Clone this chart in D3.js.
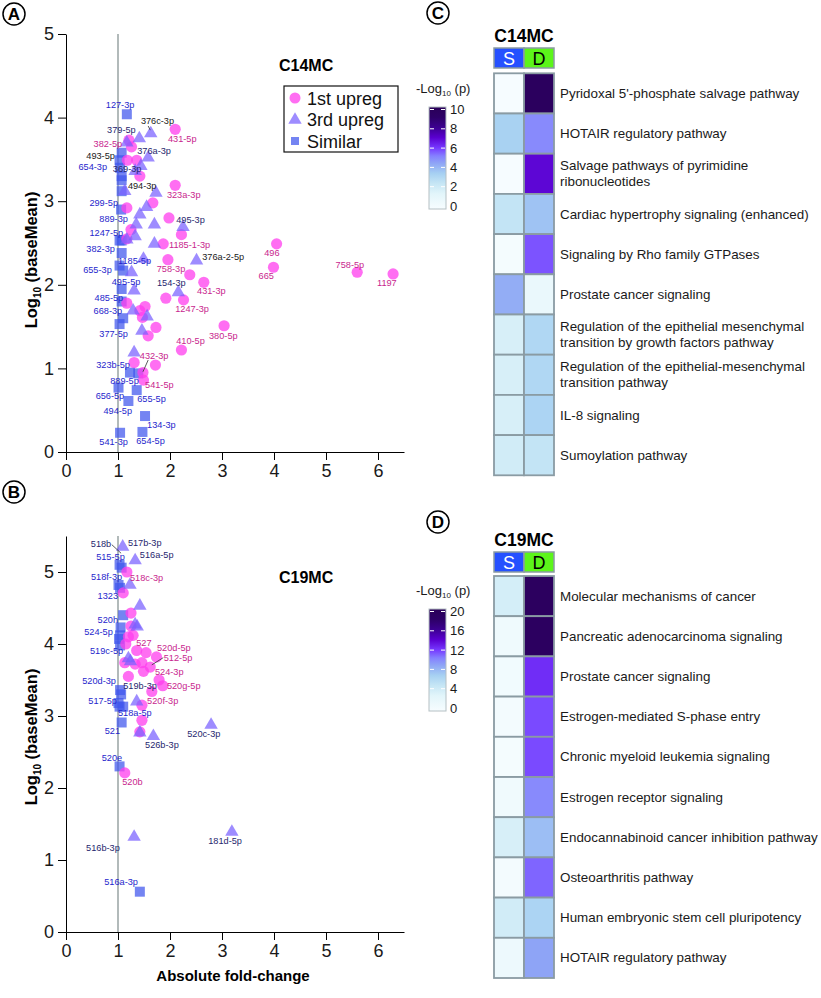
<!DOCTYPE html>
<html>
<head>
<meta charset="utf-8">
<script src="https://d3js.org/d3.v7.min.js"></script>
<style>
  body { margin: 0; background: #fff; }
  text { font-family: "Liberation Sans", Arial, sans-serif; }
</style>
</head>
<body>
<svg id="fig" width="821" height="998"></svg>
<script>
// ---- panel A (C14MC) : [abs fold-change, log10 baseMean]
const circlesA = [[2.10,3.86],[1.21,3.73],[1.26,3.65],[1.18,3.49],[1.36,3.49],[1.42,3.30],[2.10,3.19],
  [1.67,2.98],[1.17,2.92],[1.98,2.80],[1.25,2.66],[1.17,2.55],[2.22,2.60],[1.87,2.49],[4.05,2.49],
  [1.96,2.30],[2.38,2.12],[2.65,2.03],[3.99,2.21],[1.92,1.84],[2.26,1.82],[1.17,1.78],[1.52,1.74],
  [1.42,1.69],[1.47,1.61],[1.73,1.49],[1.58,1.39],[3.04,1.51],[2.22,1.22],[1.72,1.04],[1.31,1.07],
  [1.48,0.95],[1.49,0.86],[5.60,2.15],[6.29,2.13]];
const trianglesA = [[1.63,3.81],[1.41,3.75],[1.17,3.70],[1.58,3.52],[1.44,3.42],[1.33,3.36],[1.73,3.10],
  [1.13,3.12],[1.55,2.93],[1.42,2.84],[1.35,2.72],[1.70,2.72],[1.33,2.58],[1.17,2.54],[1.70,2.49],
  [1.49,2.31],[1.26,2.15],[1.31,1.93],[1.29,1.69],[1.56,1.62],[1.46,1.45],[1.31,1.19],[2.25,2.69],
  [2.51,2.29],[2.16,1.91]];
const squaresA = [[1.17,4.04],[1.07,3.58],[1.03,3.49],[1.04,3.40],[1.07,3.30],[1.07,3.25],[1.07,3.12],
  [1.06,2.90],[1.03,2.53],[1.07,2.53],[1.07,2.38],[1.03,2.23],[1.10,2.17],[1.07,1.95],[1.07,1.80],
  [1.10,1.60],[1.03,1.53],[1.23,0.95],[1.39,0.94],[1.01,0.77],[1.36,0.74],[1.20,0.61],[1.52,0.43],
  [1.04,0.23],[1.47,0.24]];
// [label, x, y, anchor, kind]  kind: s = similar, t = 3rd upreg, c = 1st upreg, k = black
const labelsA = [
  ["127-3p",1.04,4.11,"m","s"],["654-3p",0.79,3.37,"e","s"],["299-5p",1.0,2.94,"e","s"],
  ["889-3p",1.19,2.75,"e","s"],["1247-5p",1.10,2.58,"e","s"],["382-3p",0.94,2.39,"e","s"],
  ["1185-5p",1.0,2.25,"s","s"],["655-3p",0.88,2.14,"e","s"],["495-5p",0.88,2.0,"s","s"],
  ["485-5p",1.10,1.81,"e","s"],["668-3p",1.08,1.65,"e","s"],["377-5p",1.19,1.38,"e","s"],
  ["323b-5p",1.23,1.01,"e","s"],["889-5p",0.85,0.81,"s","s"],["656-5p",1.12,0.63,"e","s"],
  ["655-5p",1.37,0.60,"s","s"],["494-5p",1.27,0.46,"e","s"],["134-3p",1.56,0.29,"s","s"],
  ["541-3p",1.19,0.08,"e","s"],["654-5p",1.35,0.10,"s","s"],
  ["376c-3p",1.44,3.92,"s","k"],["493-5p",0.94,3.51,"e","k"],["494-3p",1.19,3.15,"s","k"],
  ["376a-2-5p",2.62,2.30,"s","k"],
  ["379-5p",0.79,3.81,"s","t"],["369-3p",0.90,3.35,"s","t"],["376a-3p",1.37,3.57,"s","t"],
  ["495-3p",2.12,2.74,"s","t"],["154-3p",1.75,1.98,"s","t"],
  ["382-5p",1.08,3.65,"e","c"],["431-5p",1.96,3.71,"s","c"],["323a-3p",1.94,3.04,"s","c"],
  ["1185-1-3p",1.98,2.44,"s","c"],["496",3.96,2.35,"m","c"],["665",3.85,2.07,"m","c"],
  ["758-3p",2.02,2.15,"m","c"],["431-3p",2.52,1.89,"s","c"],["1247-3p",2.10,1.68,"s","c"],
  ["380-5p",2.75,1.35,"s","c"],["410-5p",2.12,1.29,"s","c"],["432-3p",1.42,1.11,"s","c"],
  ["541-5p",1.52,0.76,"s","c"],["758-5p",5.46,2.20,"m","c"],["1197",6.17,1.99,"m","c"]];
const leadersA = [[1.58,3.90,1.62,3.85],[1.58,1.10,1.48,0.96]];

// ---- panel B (C19MC)
const circlesB = [[1.17,5.00],[1.10,4.71],[1.25,4.43],[1.25,4.25],[1.29,4.12],[1.20,4.10],[1.15,4.00],
  [1.36,3.91],[1.54,3.88],[1.74,3.82],[1.13,3.74],[1.33,3.72],[1.46,3.74],[1.62,3.68],[1.49,3.62],
  [1.20,3.55],[1.79,3.50],[1.86,3.42],[1.65,3.34],[1.46,3.15],[1.46,2.94],[1.42,2.78],[1.13,2.21]];
const trianglesB = [[1.09,5.35],[1.33,5.16],[1.23,4.82],[1.42,4.53],[1.33,4.27],[1.37,4.24],[1.20,3.80],
  [1.24,3.76],[1.36,3.20],[1.42,2.77],[1.68,2.72],[2.79,2.875],[3.19,1.39],[1.31,1.32]];
const squaresB = [[1.03,5.10],[1.07,5.06],[1.01,4.82],[1.04,4.78],[1.10,4.40],[1.05,4.23],[1.04,4.12],
  [1.02,4.07],[1.04,3.98],[1.04,3.36],[1.06,3.30],[1.01,3.18],[1.10,3.13],[1.03,3.13],[1.07,2.91],
  [1.03,2.30],[1.42,0.56]];
const labelsB = [
  ["515-5p",1.13,5.17,"e","s"],["518f-3p",1.08,4.89,"e","s"],["1323",1.0,4.63,"e","s"],
  ["520h",1.0,4.29,"e","s"],["524-5p",0.90,4.13,"e","s"],["519c-5p",1.10,3.86,"e","s"],
  ["520d-3p",0.96,3.44,"e","s"],["517-5p",0.98,3.17,"e","s"],["518a-5p",1.0,3.0,"s","s"],
  ["521",1.04,2.75,"e","s"],["520e",1.08,2.38,"e","s"],["516a-3p",1.06,0.65,"m","s"],
  ["518b",0.87,5.35,"e","t"],["517b-3p",1.19,5.36,"s","t"],["516a-5p",1.42,5.19,"s","t"],
  ["519b-3p",1.10,3.38,"s","t"],["526b-3p",1.52,2.56,"s","t"],["520c-3p",2.65,2.71,"m","t"],
  ["181d-5p",3.06,1.22,"m","t"],["516b-3p",0.71,1.13,"m","t"],
  ["518c-3p",1.23,4.88,"s","c"],["527",1.35,3.97,"s","c"],["520d-5p",1.75,3.90,"s","c"],
  ["512-5p",1.88,3.76,"s","c"],["524-3p",1.71,3.57,"s","c"],["520g-5p",1.94,3.38,"s","c"],
  ["520f-3p",1.56,3.17,"s","c"],["520b",1.08,2.04,"s","c"]];
const leadersB = [[0.88,5.38,1.06,5.26],[1.87,3.81,1.65,3.71]];

const xTicks = [0,1,2,3,4,5,6];
const yTicks = [0,1,2,3,4,5];
const legendNames = ["1st upreg","3rd upreg","Similar"];

// ---- heatmaps: -log10(p) for S (similar) and D (different)
const pathC = ["Pyridoxal 5'-phosphate salvage pathway","HOTAIR regulatory pathway",
  "Salvage pathways of pyrimidine|ribonucleotides","Cardiac hypertrophy signaling (enhanced)",
  "Signaling by Rho family GTPases","Prostate cancer signaling",
  "Regulation of the epithelial mesenchymal|transition by growth factors pathway",
  "Regulation of the epithelial-mesenchymal|transition pathway","IL-8 signaling","Sumoylation pathway"];
const sC = [0.1,3.4,0.1,2.6,0.2,4.3,1.9,1.9,1.9,2.1];
const dC = [9.6,5.0,6.9,3.8,5.7,0.9,3.2,3.2,3.3,2.6];
const ticksC = [0,2,4,6,8,10];

const pathD = ["Molecular mechanisms of cancer","Pancreatic adenocarcinoma signaling",
  "Prostate cancer signaling","Estrogen-mediated S-phase entry","Chronic myeloid leukemia signaling",
  "Estrogen receptor signaling","Endocannabinoid cancer inhibition pathway","Osteoarthritis pathway",
  "Human embryonic stem cell pluripotency","HOTAIR regulatory pathway"];
const sD = [4.0,1.2,0.8,0.6,0.4,1.0,3.8,0.6,4.2,1.4];
const dD = [19.0,18.8,12.4,11.6,11.6,10.0,7.8,11.0,6.6,9.0];
const ticksD = [0,4,8,12,16,20];

const svg = d3.select('#fig');
const colC = '#ff3dee', colT = '#7860ff', colS = '#3f55ed';
const labelCol = { s: '#2626cc', t: '#26266e', c: '#c8268e', k: '#1a1a1a' };
const anchor = { s: 'start', e: 'end', m: 'middle' };
const FONT = '"Liberation Sans", Arial, sans-serif';

const x = d3.scaleLinear().domain([0, 6.5]).range([66, 404]);

function panelLetter(cx, cy, letter) {
  svg.append('circle').attr('cx', cx).attr('cy', cy).attr('r', 11)
    .attr('fill', 'none').attr('stroke', '#000').attr('stroke-width', 1.5);
  svg.append('text').attr('x', cx).attr('y', cy + 6).attr('text-anchor', 'middle')
    .attr('font-size', 17).attr('font-weight', 'bold').text(letter);
}

function scatter(y, yMax, circles, triangles, squares, labels, leaders, title, titleY, ylabY) {
  const g = svg.append('g');
  // reference line at fold-change 1
  g.append('line').attr('x1', x(1)).attr('x2', x(1)).attr('y1', y(yMax)).attr('y2', y(0))
    .attr('stroke', '#7f8c8c').attr('stroke-width', 1.2);

  const ya = d3.axisLeft(y).tickValues(yTicks).tickFormat(d3.format('d'))
    .tickSize(8).tickPadding(4).tickSizeOuter(0);
  const xa = d3.axisBottom(x).tickValues(xTicks).tickFormat(d3.format('d'))
    .tickSize(8).tickPadding(4).tickSizeOuter(0);
  g.append('g').attr('transform', 'translate(' + x(0) + ',0)').call(ya)
    .attr('font-size', 18).attr('font-family', FONT);
  g.append('g').attr('transform', 'translate(0,' + y(0) + ')').call(xa)
    .attr('font-size', 18).attr('font-family', FONT);
  g.selectAll('.tick text').attr('fill', '#1a1a1a');

  g.selectAll('.sq').data(squares).enter().append('rect')
    .attr('x', d => x(d[0]) - 5).attr('y', d => y(d[1]) - 5)
    .attr('width', 10).attr('height', 10).attr('fill', colS).attr('fill-opacity', 0.72);
  g.selectAll('.ci').data(circles).enter().append('circle')
    .attr('cx', d => x(d[0])).attr('cy', d => y(d[1])).attr('r', 5.6)
    .attr('fill', colC).attr('fill-opacity', 0.75);
  const tri = d3.symbol().type(d3.symbolTriangle).size(78);
  g.selectAll('.tr').data(triangles).enter().append('path')
    .attr('d', tri).attr('transform', d => 'translate(' + x(d[0]) + ',' + y(d[1]) + ')')
    .attr('fill', colT).attr('fill-opacity', 0.72);

  g.selectAll('.ld').data(leaders).enter().append('line')
    .attr('x1', d => x(d[0])).attr('y1', d => y(d[1])).attr('x2', d => x(d[2])).attr('y2', d => y(d[3]))
    .attr('stroke', '#333').attr('stroke-width', 0.8);

  g.selectAll('.lb').data(labels).enter().append('text')
    .attr('x', d => x(d[1])).attr('y', d => y(d[2]))
    .attr('text-anchor', d => anchor[d[3]]).attr('fill', d => labelCol[d[4]])
    .attr('font-size', 9.2).text(d => d[0]);

  g.append('text').attr('x', 279).attr('y', titleY).attr('font-size', 16)
    .attr('font-weight', 'bold').text(title);

  const yl = g.append('text').attr('transform', 'translate(37,' + ylabY + ') rotate(-90)')
    .attr('text-anchor', 'middle').attr('font-size', 16.5).attr('font-weight', 'bold');
  yl.append('tspan').text('Log');
  yl.append('tspan').attr('font-size', 10).attr('dy', 4).text('10');
  yl.append('tspan').attr('dy', -4).text(' (baseMean)');
}

const yA = d3.scaleLinear().domain([0, 5]).range([452, 34]);
const yB = d3.scaleLinear().domain([0, 5.5]).range([932, 536]);
scatter(yA, 5, circlesA, trianglesA, squaresA, labelsA, leadersA, 'C14MC', 71, 260);
scatter(yB, 5.5, circlesB, trianglesB, squaresB, labelsB, leadersB, 'C19MC', 583, 737);

svg.append('text').attr('x', 233).attr('y', 981).attr('text-anchor', 'middle')
  .attr('font-size', 15).attr('font-weight', 'bold').text('Absolute fold-change');

// legend in A
const lg = svg.append('g');
lg.append('rect').attr('x', 284).attr('y', 86).attr('width', 114).attr('height', 66)
  .attr('fill', '#fff').attr('stroke', '#111').attr('stroke-width', 1.2);
lg.append('circle').attr('cx', 295).attr('cy', 98).attr('r', 5.5).attr('fill', colC).attr('fill-opacity', 0.75);
lg.append('path').attr('d', d3.symbol().type(d3.symbolTriangle).size(78))
  .attr('transform', 'translate(295,120)').attr('fill', colT).attr('fill-opacity', 0.72);
lg.append('rect').attr('x', 291).attr('y', 137).attr('width', 8).attr('height', 8)
  .attr('fill', colS).attr('fill-opacity', 0.72);
lg.selectAll('.lt').data(legendNames).enter().append('text')
  .attr('x', 307).attr('y', (d, i) => 104.5 + i * 21.5).attr('font-size', 18).attr('fill', '#111').text(d => d);

panelLetter(14, 14, 'A');
panelLetter(14, 492, 'B');
panelLetter(438, 13, 'C');
panelLetter(438, 522, 'D');

// ---- heatmap helper
const stopsT = [0, 0.15, 0.25, 0.35, 0.45, 0.52, 0.6, 0.7, 0.8, 0.9, 1];
const stopsCol = ['#f7fdff','#e2f5fa','#c6e6f5','#a6d0f2','#8ea4f6','#8580ff','#7638ff','#5a00d0','#3c0090','#2d0066','#2a0058'];

function heatmap(id, top, names, sv, dv, ticks, title, headY, legTop) {
  const maxV = ticks[ticks.length - 1];
  const color = d3.scaleLinear().domain(stopsT.map(t => t * maxV)).range(stopsCol);
  const g = svg.append('g');
  const cx = d3.scaleBand().domain(['S', 'D']).range([494, 554]);
  const ry = d3.scaleBand().domain(d3.range(names.length)).range([top, top + 402]);

  g.append('text').attr('x', 524).attr('y', headY).attr('text-anchor', 'middle')
    .attr('font-size', 17.5).attr('font-weight', 'bold').text(title);
  const hy = headY + 6;
  g.append('rect').attr('x', cx('S')).attr('y', hy).attr('width', cx.bandwidth()).attr('height', 20)
    .attr('fill', '#2550ff').attr('stroke', '#8a9ba3').attr('stroke-width', 1.5);
  g.append('rect').attr('x', cx('D')).attr('y', hy).attr('width', cx.bandwidth()).attr('height', 20)
    .attr('fill', '#5cf51a').attr('stroke', '#8a9ba3').attr('stroke-width', 1.5);
  g.append('text').attr('x', cx('S') + 15).attr('y', hy + 16.5).attr('text-anchor', 'middle')
    .attr('font-size', 18).attr('fill', '#fff').text('S');
  g.append('text').attr('x', cx('D') + 15).attr('y', hy + 16.5).attr('text-anchor', 'middle')
    .attr('font-size', 18).attr('fill', '#000').text('D');

  const cells = [];
  names.forEach((n, i) => { cells.push({ r: i, c: 'S', v: sv[i] }); cells.push({ r: i, c: 'D', v: dv[i] }); });
  g.selectAll('.cell').data(cells).enter().append('rect')
    .attr('x', d => cx(d.c)).attr('y', d => ry(d.r)).attr('width', cx.bandwidth()).attr('height', ry.bandwidth())
    .attr('fill', d => color(d.v)).attr('stroke', '#8a9ba3').attr('stroke-width', 1.8);

  names.forEach((n, i) => {
    const lines = n.split('|');
    const mid = ry(i) + ry.bandwidth() / 2;
    lines.forEach((ln, j) => {
      g.append('text').attr('x', 560).attr('y', mid + 4.5 + (j - (lines.length - 1) / 2) * 16)
        .attr('font-size', 13.4).attr('fill', '#1a1a1a').text(ln);
    });
  });

  // colour legend
  const ly = d3.scaleLinear().domain([0, maxV]).range([legTop + 99, legTop + 2.5]);
  const grad = svg.append('defs').append('linearGradient').attr('id', id)
    .attr('x1', 0).attr('y1', 1).attr('x2', 0).attr('y2', 0);
  stopsT.forEach((t, i) => grad.append('stop').attr('offset', t).attr('stop-color', stopsCol[i]));
  g.append('text').attr('x', 416).attr('y', legTop - 14).attr('font-size', 13).attr('fill', '#1a1a1a')
    .call(t => {
      t.append('tspan').text('-Log');
      t.append('tspan').attr('font-size', 8).attr('dy', 3).text('10');
      t.append('tspan').attr('dy', -3).text(' (p)');
    });
  g.append('rect').attr('x', 429).attr('y', legTop).attr('width', 17).attr('height', 102)
    .attr('fill', 'url(#' + id + ')').attr('stroke', '#b5c0c4').attr('stroke-width', 1);
  ticks.filter(v => v > 0).forEach(v => {
    g.append('line').attr('x1', 430).attr('x2', 434).attr('y1', ly(v)).attr('y2', ly(v)).attr('stroke', '#fff');
    g.append('line').attr('x1', 441).attr('x2', 445).attr('y1', ly(v)).attr('y2', ly(v)).attr('stroke', '#fff');
  });
  g.selectAll('.lt').data(ticks).enter().append('text')
    .attr('x', 450).attr('y', d => ly(d) + 4.5).attr('font-size', 13).attr('fill', '#1a1a1a').text(d => d);
}

heatmap('gradC', 73.3, pathC, sC, dC, ticksC, 'C14MC', 42, 107);
heatmap('gradD', 576, pathD, sD, dD, ticksD, 'C19MC', 546, 609);
</script>
</body>
</html>
